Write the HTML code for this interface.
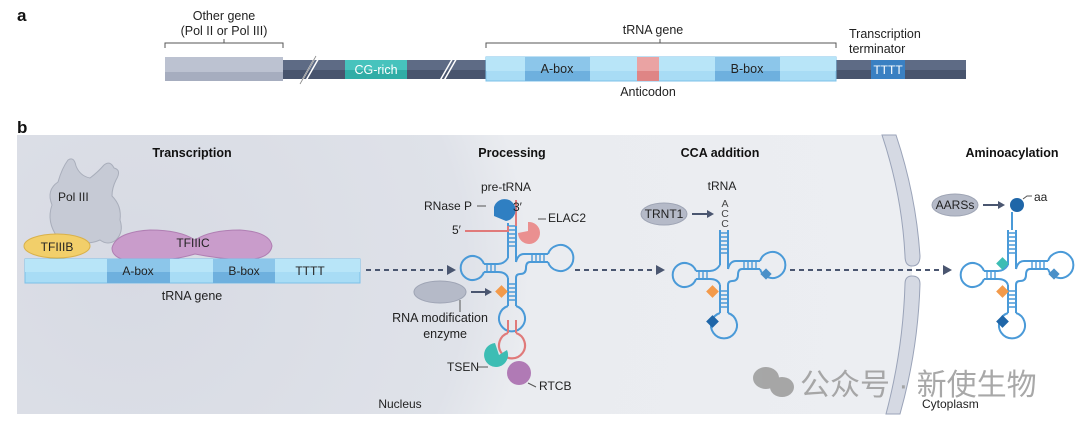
<!DOCTYPE html>
<html><head><meta charset="utf-8"><style>
html,body{margin:0;padding:0;background:#fff;}
svg{display:block;font-family:"Liberation Sans","Noto Sans CJK SC",sans-serif;}
</style></head><body>
<svg width="1080" height="429" viewBox="0 0 1080 429" xmlns="http://www.w3.org/2000/svg">
<defs>
<radialGradient id="nuc" cx="130" cy="270" r="800" gradientUnits="userSpaceOnUse">
<stop offset="0" stop-color="#d7dae3"/><stop offset="0.42" stop-color="#dfe2e9"/><stop offset="0.5" stop-color="#eaecf0"/><stop offset="1" stop-color="#eceef2"/>
</radialGradient>
<g id="trna" fill="none" stroke="#4a9ad8" stroke-width="2">
<path d="M-4,-45 V-10 M4,-45 V-6"/>
<path d="M-4,-42 H4 M-4,-38 H4 M-4,-34 H4 M-4,-30 H4 M-4,-26 H4 M-4,-22 H4" stroke-width="1.4"/>
<path d="M-4,-10 Q-8,-4 -14,-4 H-28 M-28,4 H-14 Q-6,4 -4,10"/>
<path d="M-28,-4 A12,12 0 1 0 -28,4"/>
<path d="M-25,-4 V4 M-21,-4 V4 M-17,-4 V4" stroke-width="1.4"/>
<path d="M4,-6 Q6,-14 12,-14 H36 M36,-6 H18 Q14,-6 14,0 Q14,6 8,6 Q4,6 4,10"/>
<path d="M36,-14 A13,13 0 1 1 36,-6"/>
<path d="M20,-14 V-6 M24,-14 V-6 M28,-14 V-6 M32,-14 V-6" stroke-width="1.4"/>
<path d="M-4,10 V38 M4,10 V38"/>
<path d="M-4,16 H4 M-4,20 H4 M-4,24 H4 M-4,28 H4 M-4,32 H4" stroke-width="1.4"/>
<path d="M-4,38 A13,13 0 1 0 4,38"/>
</g>
</defs>

<!-- PANEL A -->
<text x="17" y="21" font-size="17" font-weight="bold" fill="#111">a</text>
<text x="224" y="20" font-size="12.5" fill="#222" text-anchor="middle">Other gene</text>
<text x="224" y="35" font-size="12.5" fill="#222" text-anchor="middle">(Pol II or Pol III)</text>
<path d="M165,48 V43 H283 V48 M224,43 V39" fill="none" stroke="#555" stroke-width="1"/>
<text x="653" y="34" font-size="12.5" fill="#222" text-anchor="middle">tRNA gene</text>
<path d="M486,48 V43 H836 V48 M660,43 V39" fill="none" stroke="#555" stroke-width="1"/>
<text x="849" y="38" font-size="12.5" fill="#222">Transcription</text>
<text x="849" y="53" font-size="12.5" fill="#222">terminator</text>
<rect x="283" y="60" width="683" height="10" fill="#5e6b85"/>
<rect x="283" y="70" width="683" height="9" fill="#48546d"/>
<rect x="165" y="57" width="118" height="15" fill="#bcc2d1"/>
<rect x="165" y="72" width="118" height="9" fill="#a6adbf"/>
<rect x="345" y="60" width="62" height="10" fill="#47c3bd"/>
<rect x="345" y="70" width="62" height="9" fill="#30ada6"/>
<text x="376" y="74" font-size="12.5" fill="#fff" text-anchor="middle">CG-rich</text>
<path d="M300,84 L316,56 M304,84 L320,56" stroke="#fff" stroke-width="1.5"/>
<path d="M300,84 L316,56" stroke="#888" stroke-width="0.8"/>
<path d="M438,84 L454,56 M442,84 L458,56" stroke="#fff" stroke-width="1.5"/>
<rect x="486" y="57" width="350" height="24" fill="#a8dcf5" stroke="#7cc0e8" stroke-width="1"/>
<rect x="486" y="57" width="350" height="14" fill="#b8e5f8"/>
<rect x="525" y="57" width="65" height="14" fill="#8cc6ea"/><rect x="525" y="71" width="65" height="10" fill="#6eb0de"/>
<rect x="637" y="57" width="22" height="14" fill="#eaa3a3"/><rect x="637" y="71" width="22" height="10" fill="#df8585"/>
<rect x="715" y="57" width="65" height="14" fill="#8cc6ea"/><rect x="715" y="71" width="65" height="10" fill="#6eb0de"/>
<text x="557" y="73" font-size="12.5" fill="#222" text-anchor="middle">A-box</text>
<text x="747" y="73" font-size="12.5" fill="#222" text-anchor="middle">B-box</text>
<text x="648" y="96" font-size="12.5" fill="#222" text-anchor="middle">Anticodon</text>
<rect x="871" y="60" width="34" height="19" fill="#3a80c2"/>
<text x="888" y="74" font-size="12" fill="#fff" text-anchor="middle">TTTT</text>

<!-- PANEL B -->
<text x="17" y="133" font-size="17" font-weight="bold" fill="#111">b</text>
<rect x="17" y="135" width="1063" height="279" fill="#ffffff"/>
<path d="M17,135 H888 Q912,200 912,270 Q912,345 894,414 H17 Z" fill="url(#nuc)"/>
<path d="M882,135 H896 Q916,195 920,256 Q920,266 912,266 Q905,266 905,256 Q902,195 882,135 Z" fill="#d5d9e3" stroke="#9aa3b8" stroke-width="1"/>
<path d="M905,284 Q905,276 912,276 Q920,276 920,284 Q918,350 900,414 H886 Q903,350 905,284 Z" fill="#d5d9e3" stroke="#9aa3b8" stroke-width="1"/>

<text x="192" y="157" font-size="12.5" font-weight="bold" fill="#111" text-anchor="middle">Transcription</text>
<text x="512" y="157" font-size="12.5" font-weight="bold" fill="#111" text-anchor="middle">Processing</text>
<text x="720" y="157" font-size="12.5" font-weight="bold" fill="#111" text-anchor="middle">CCA addition</text>
<text x="1012" y="157" font-size="12.5" font-weight="bold" fill="#111" text-anchor="middle">Aminoacylation</text>

<!-- Pol III -->
<path d="M58,238 Q46,222 52,205 Q46,190 58,182 Q62,168 68,160 Q74,156 76,166 Q80,176 90,178 Q98,172 104,165 Q110,160 114,168 Q122,170 116,180 Q112,188 112,196 Q122,206 120,220 Q124,232 116,240 Q108,246 100,240 Q86,246 72,240 Q64,244 58,238 Z" fill="#c6cad5" stroke="#a9aebb" stroke-width="1"/>
<text x="58" y="201" font-size="12" fill="#222">Pol III</text>
<ellipse cx="57" cy="246" rx="33" ry="12" fill="#f2cf6a" stroke="#d9b14a" stroke-width="1"/>
<text x="57" y="251" font-size="12" fill="#222" text-anchor="middle">TFIIIB</text>
<path d="M112,248 Q116,232 150,230 Q180,230 195,240 Q210,230 240,230 Q270,232 272,246 Q270,260 240,260 Q215,258 195,254 Q175,260 145,262 Q112,262 112,248 Z" fill="#c99ccb" stroke="#b07fb3" stroke-width="1"/>
<text x="193" y="247" font-size="12" fill="#222" text-anchor="middle">TFIIIC</text>
<rect x="25" y="259" width="335" height="24" fill="#a8dcf5" stroke="#7cc0e8" stroke-width="1"/>
<rect x="25" y="259" width="335" height="13" fill="#b8e5f8"/>
<rect x="107" y="259" width="63" height="13" fill="#8cc6ea"/><rect x="107" y="272" width="63" height="11" fill="#6eb0de"/>
<rect x="213" y="259" width="62" height="13" fill="#8cc6ea"/><rect x="213" y="272" width="62" height="11" fill="#6eb0de"/>
<text x="138" y="275" font-size="12" fill="#222" text-anchor="middle">A-box</text>
<text x="244" y="275" font-size="12" fill="#222" text-anchor="middle">B-box</text>
<text x="310" y="275" font-size="12" fill="#222" text-anchor="middle">TTTT</text>
<text x="192" y="300" font-size="12.5" fill="#222" text-anchor="middle">tRNA gene</text>

<!-- dashed arrows -->
<g stroke="#4a5670" stroke-width="2" stroke-dasharray="5,4">
<path d="M366,270 H448"/><path d="M575,270 H655"/><path d="M790,270 H942"/>
</g>
<g fill="#4a5670"><path d="M447,265 L456,270 L447,275Z"/><path d="M656,265 L665,270 L656,275Z"/><path d="M943,265 L952,270 L943,275Z"/></g>

<!-- processing -->
<text x="506" y="191" font-size="12" fill="#222" text-anchor="middle">pre-tRNA</text>
<use href="#trna" x="512" y="268"/>
<path d="M508,333 A13,13 0 1 0 516,333" fill="none" stroke="#e07a7a" stroke-width="2.2"/>
<path d="M508,320 V333 M516,320 V333" stroke="#e07a7a" stroke-width="2"/>
<path d="M465,231 H508 V226" fill="none" stroke="#e07a7a" stroke-width="2"/>
<path d="M516,200 V226" fill="none" stroke="#e07a7a" stroke-width="2"/>
<path d="M494,207 A11,11 0 1 1 506,221 L494,216 Z" fill="#2f7fc2"/>
<text x="424" y="210" font-size="12" fill="#222">RNase P</text>
<path d="M477,206 H486" stroke="#555"/>
<text x="452" y="234" font-size="12" fill="#222">5′</text>
<text x="513" y="211" font-size="12" fill="#222">3′</text>
<path d="M528,222 A11,11 0 1 1 518,233 L528,231 Z" fill="#ea9090"/>
<text x="548" y="222" font-size="12" fill="#222">ELAC2</text>
<path d="M538,219 H546" stroke="#555"/>
<ellipse cx="440" cy="292" rx="26" ry="11" fill="#b5bac8" stroke="#9ea4b4"/>
<path d="M471,292 H486" stroke="#4a5670" stroke-width="2"/><path d="M485,288 L492,292 L485,296Z" fill="#4a5670"/>
<rect x="497" y="287" width="9" height="9" fill="#f39a4a" transform="rotate(45 501.5 291.5)"/>
<path d="M460,300 V312" stroke="#555"/>
<text x="440" y="322" font-size="12.5" fill="#222" text-anchor="middle">RNA modification</text>
<text x="440" y="338" font-size="12.5" fill="#222" text-anchor="end" dx="27">enzyme</text>
<path d="M507,350 A12,12 0 1 1 495,343 L499,355 Z" fill="#3dbdb4"/>
<text x="447" y="371" font-size="12" fill="#222">TSEN</text>
<path d="M478,367 H488" stroke="#555"/>
<circle cx="519" cy="373" r="12" fill="#b07ab5"/>
<text x="539" y="390" font-size="12" fill="#222">RTCB</text>
<path d="M528,383 L536,387" stroke="#555"/>

<!-- CCA -->
<text x="722" y="190" font-size="12" fill="#222" text-anchor="middle">tRNA</text>
<ellipse cx="664" cy="214" rx="23" ry="11" fill="#b5bac8" stroke="#9ea4b4"/>
<text x="664" y="218" font-size="12" fill="#222" text-anchor="middle">TRNT1</text>
<path d="M692,214 H708" stroke="#4a5670" stroke-width="2"/><path d="M707,210 L714,214 L707,218Z" fill="#4a5670"/>
<text x="725" y="207" font-size="10.5" fill="#444" text-anchor="middle">A</text>
<text x="725" y="217" font-size="10.5" fill="#444" text-anchor="middle">C</text>
<text x="725" y="227" font-size="10.5" fill="#444" text-anchor="middle">C</text>
<use href="#trna" x="724" y="275"/>
<rect x="708" y="287" width="9" height="9" fill="#f39a4a" transform="rotate(45 712.5 291.5)"/>
<rect x="762" y="270" width="8" height="8" fill="#4a90c8" transform="rotate(45 766 274)"/>
<rect x="708" y="317" width="9" height="9" fill="#1f66a8" transform="rotate(45 712.5 321.5)"/>

<!-- Aminoacylation -->
<ellipse cx="955" cy="205" rx="23" ry="11" fill="#b5bac8" stroke="#9ea4b4"/>
<text x="955" y="209" font-size="12" fill="#222" text-anchor="middle">AARSs</text>
<path d="M983,205 H999" stroke="#4a5670" stroke-width="2"/><path d="M998,201 L1005,205 L998,209Z" fill="#4a5670"/>
<circle cx="1017" cy="205" r="7" fill="#1f66a8"/>
<path d="M1023,199 L1027,196 H1032" stroke="#555" fill="none"/>
<text x="1034" y="201" font-size="12" fill="#222">aa</text>
<path d="M1012,212 V230" stroke="#4a9ad8" stroke-width="2"/>
<use href="#trna" x="1012" y="275"/>
<rect x="998" y="259" width="9" height="9" fill="#3dbdb4" transform="rotate(45 1002.5 263.5)"/>
<rect x="998" y="287" width="9" height="9" fill="#f39a4a" transform="rotate(45 1002.5 291.5)"/>
<rect x="1050" y="270" width="8" height="8" fill="#4a90c8" transform="rotate(45 1054 274)"/>
<rect x="998" y="317" width="9" height="9" fill="#1f66a8" transform="rotate(45 1002.5 321.5)"/>

<text x="400" y="408" font-size="12" fill="#222" text-anchor="middle">Nucleus</text>
<text x="922" y="408" font-size="12" fill="#222">Cytoplasm</text>

<!-- watermark -->
<g fill="#9a9a9a" opacity="0.85">
<ellipse cx="766" cy="378" rx="13" ry="11"/><ellipse cx="782" cy="387" rx="12" ry="10"/>
</g>
<text x="800" y="395" font-size="30" fill="#9a9a9a" opacity="0.85">公众号 · 新使生物</text>
</svg>
</body></html>
